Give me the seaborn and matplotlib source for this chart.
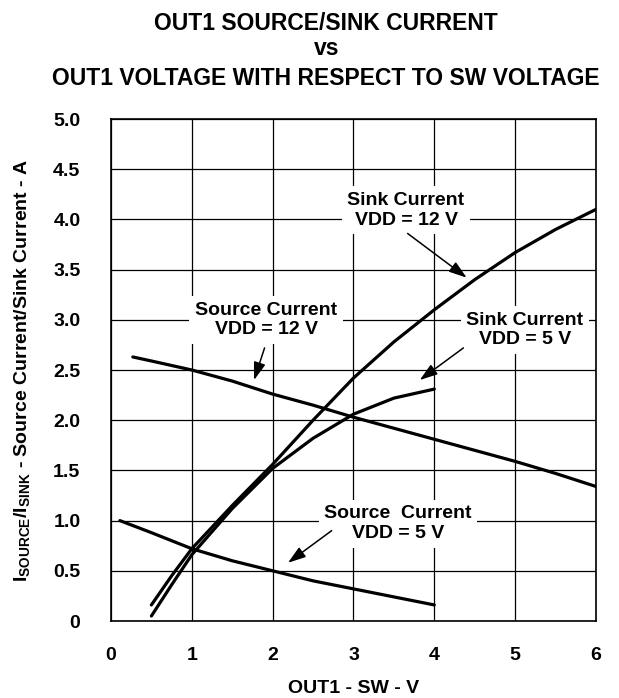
import numpy as np
import pandas as pd
import matplotlib
matplotlib.use("Agg")
import matplotlib.pyplot as plt
import seaborn as sns

# --- data ---
src12_x = [0.27, 0.5, 1.0, 1.5, 2.0, 2.5, 3.0, 3.5, 4.0, 4.5, 5.0, 5.5, 6.0]
src12_y = [2.63, 2.59, 2.50, 2.39, 2.26, 2.15, 2.03, 1.92, 1.81, 1.70, 1.59, 1.47, 1.34]

sink12_x = [0.5, 0.75, 1.0, 1.5, 2.0, 2.5, 3.0, 3.5, 4.0, 4.5, 5.0, 5.5, 6.0]
sink12_y = [0.16, 0.45, 0.72, 1.15, 1.56, 2.00, 2.42, 2.78, 3.10, 3.40, 3.67, 3.90, 4.10]

sink5_x = [0.5, 0.75, 1.0, 1.5, 2.0, 2.5, 3.0, 3.5, 4.0]
sink5_y = [0.05, 0.36, 0.66, 1.12, 1.52, 1.82, 2.06, 2.22, 2.31]

src5_x = [0.11, 0.5, 1.0, 1.5, 2.0, 2.5, 3.0, 3.5, 4.0]
src5_y = [1.00, 0.88, 0.72, 0.60, 0.50, 0.40, 0.32, 0.24, 0.16]

curves = {
    "Source 12V": (src12_x, src12_y),
    "Sink 12V": (sink12_x, sink12_y),
    "Sink 5V": (sink5_x, sink5_y),
    "Source 5V": (src5_x, src5_y),
}

# label text, text center, arrow tail, arrow head (data coords)
labels = [
    ("Sink Current\nVDD = 12 V", (3.65, 4.09), (3.67, 3.86), (4.40, 3.42)),
    ("Source Current\nVDD = 12 V", (1.92, 3.00), (1.90, 2.72), (1.77, 2.40)),
    ("Sink Current\nVDD = 5 V", (5.12, 2.90), (4.36, 2.72), (3.82, 2.40)),
    ("Source  Current\nVDD = 5 V", (3.55, 0.97), (2.73, 0.90), (2.19, 0.58)),
]

sns.set_theme(style="white")
plt.rcParams["font.family"] = ["Liberation Sans", "DejaVu Sans"]
plt.rcParams["font.weight"] = "bold"
plt.rcParams["text.color"] = "black"
plt.rcParams["axes.labelcolor"] = "black"
plt.rcParams["mathtext.fontset"] = "custom"
plt.rcParams["mathtext.rm"] = "Liberation Sans:bold"
plt.rcParams["mathtext.it"] = "Liberation Sans:bold"
plt.rcParams["mathtext.bf"] = "Liberation Sans:bold"

fig = plt.figure(figsize=(6.19, 6.98), dpi=100)
ax = fig.add_axes([0.1793, 0.1103, 0.7835, 0.7192])

rows = []
for name, (xs, ys) in curves.items():
    for x, y in zip(xs, ys):
        rows.append({"curve": name, "x": x, "y": y})
df = pd.DataFrame(rows)

for name in curves:
    sns.lineplot(data=df[df.curve == name], x="x", y="y", ax=ax, color="black",
                 linewidth=2.3, sort=False, estimator=None, zorder=3)

ax.set_xlim(0, 6)
ax.set_ylim(0, 5)
ax.set_xticks(range(0, 7))
ax.set_xticklabels([str(i) for i in range(7)])
yt = np.arange(0, 5.01, 0.5)
ax.set_yticks(yt)
ax.set_yticklabels(["0"] + [f"{v:.1f}" for v in yt[1:]])
ax.grid(True, color="black", linewidth=0.9)
ax.set_axisbelow(True)
for s in ax.spines.values():
    s.set_color("black")
    s.set_linewidth(1.2)
ax.tick_params(axis="both", length=0, labelsize=14, colors="black")
ax.tick_params(axis="x", pad=19)
ax.tick_params(axis="y", pad=22)

ax.set_xlabel("OUT1 - SW - V", fontsize=14, fontweight="bold", labelpad=11)
ax.set_ylabel(r"I$_{\mathrm{SOURCE}}$/I$_{\mathrm{SINK}}$ - Source Current/Sink Current - A",
              fontsize=14, fontweight="bold", labelpad=15)

title_size = 16.5
title_x = 0.527
fig.text(title_x, 0.957, "OUT1 SOURCE/SINK CURRENT", ha="center", va="baseline",
         fontsize=title_size, fontweight="bold")
fig.text(title_x, 0.921, "vs", ha="center", va="baseline", fontsize=title_size,
         fontweight="bold")
fig.text(title_x, 0.878, "OUT1 VOLTAGE WITH RESPECT TO SW VOLTAGE", ha="center",
         va="baseline", fontsize=title_size, fontweight="bold")

for text, c, tail, head in labels:
    ax.text(c[0], c[1], text, ha="center", va="center", fontsize=14,
            fontweight="bold", linespacing=1.2, zorder=2,
            bbox=dict(facecolor="white", edgecolor="none", pad=4))
    ax.annotate("", xy=head, xytext=tail, zorder=4,
                arrowprops=dict(arrowstyle="-|>,head_length=0.9,head_width=0.3",
                                color="black", linewidth=1.1, shrinkA=0, shrinkB=0))

fig.savefig("out.png", dpi=100)
